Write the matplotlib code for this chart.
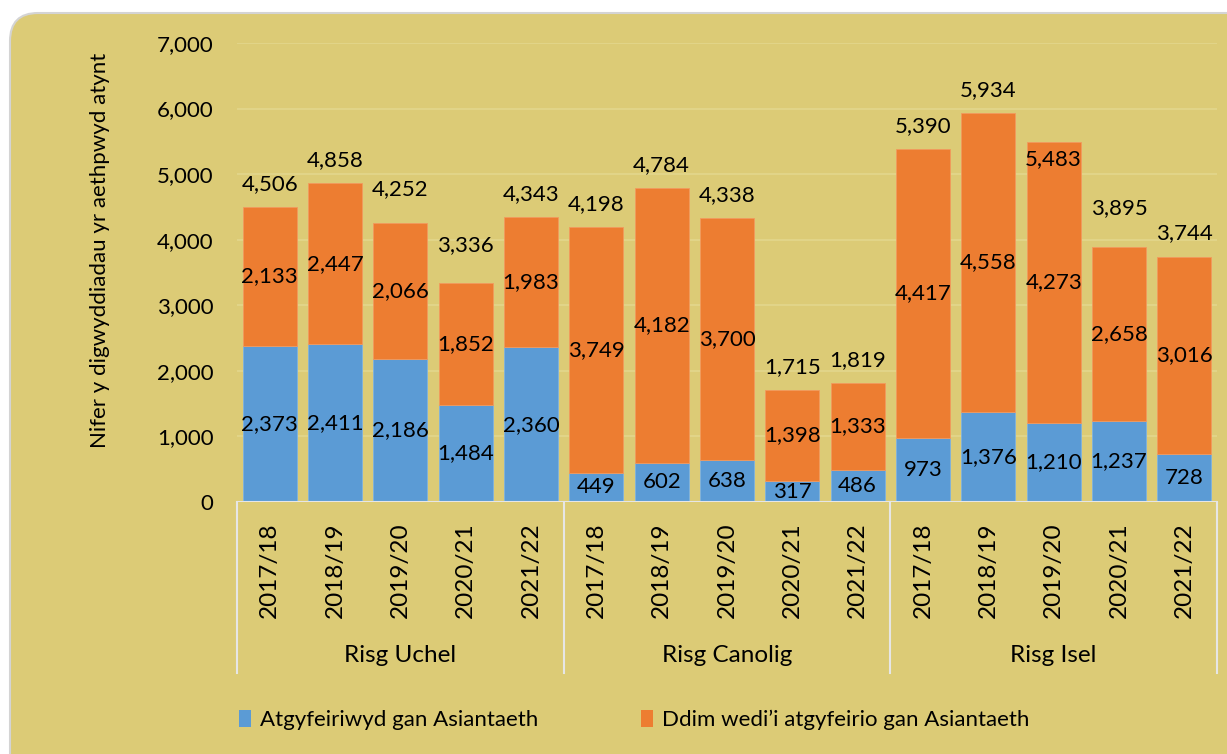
import numpy as np
import matplotlib.pyplot as plt
from matplotlib.patches import FancyBboxPatch, Patch
from matplotlib.lines import Line2D

plt.rcParams['font.family'] = ['Lato', 'DejaVu Sans']

# data
years = ['2017/18', '2018/19', '2019/20', '2020/21', '2021/22']
groups = ['Risg Uchel', 'Risg Canolig', 'Risg Isel']
referred = [2373, 2411, 2186, 1484, 2360,
            449, 602, 638, 317, 486,
            973, 1376, 1210, 1237, 728]
not_referred = [2133, 2447, 2066, 1852, 1983,
                3749, 4182, 3700, 1398, 1333,
                4417, 4558, 4273, 2658, 3016]
totals = [4506, 4858, 4252, 3336, 4343,
          4198, 4784, 4338, 1715, 1819,
          5390, 5934, 5483, 3895, 3744]
series_names = ['Atgyfeiriwyd gan Asiantaeth', "Ddim wedi\u2019i atgyfeirio gan Asiantaeth"]
ylabel = 'Nifer y digwyddiadau yr aethpwyd atynt'

blue = '#5B9BD5'
orange = '#ED7D31'
bg = '#DCCB76'
grid_c = '#E3D68C'
sep_c = '#E6E6E6'

W, H = 1227, 754
fig = plt.figure(figsize=(W / 100, H / 100), dpi=100)
fig.patch.set_facecolor('white')

# rounded khaki panel
panel = FancyBboxPatch((0.10, -0.3), 12.6, 7.71,
                       boxstyle='round,pad=0,rounding_size=0.28',
                       transform=fig.dpi_scale_trans, facecolor=bg,
                       edgecolor='#D4D4D4', linewidth=1.5, zorder=-10)
fig.patches.append(panel)

ax = fig.add_axes([237 / W, (H - 502) / H, 980 / W, 459 / H])
ax.set_facecolor('none')
ax.set_zorder(2)

n = len(totals)
x = np.arange(n)
ax.bar(x, referred, width=0.83, color=blue, edgecolor='#7FB2E0', linewidth=0.6, zorder=3)
ax.bar(x, not_referred, bottom=referred, width=0.83, color=orange,
       edgecolor='#F29A5E', linewidth=0.6, zorder=3)

ax.set_xlim(-0.5, n - 0.5)
ax.set_ylim(0, 7000)
ax.set_yticks(range(0, 7001, 1000))
ax.set_yticklabels([f'{v:,}' for v in range(0, 7001, 1000)], fontsize=16)
ax.tick_params(axis='y', length=0, pad=17)
ax.set_xticks([])
for v in range(1000, 7001, 1000):
    ax.axhline(v, color=grid_c, linewidth=1.2, zorder=1)
for s in ax.spines.values():
    s.set_visible(False)
ax.axhline(0, color=sep_c, linewidth=1.5, zorder=4)

# segment labels
for i in range(n):
    ax.text(x[i], referred[i] / 2, f'{referred[i]:,}', ha='center', va='center',
            fontsize=16, zorder=5)
    ax.text(x[i], referred[i] + not_referred[i] / 2, f'{not_referred[i]:,}',
            ha='center', va='center', fontsize=16, zorder=5)

# total labels (a few nudged as in the original)
nudge = {2: 11, 3: 15, 12: -40, 13: 16}
for i in range(n):
    ax.annotate(f'{totals[i]:,}', (x[i], totals[i]), xytext=(0, 16.5 + nudge.get(i, 0) * 0.72),
                textcoords='offset points', ha='center', va='center', fontsize=16, zorder=5)

# two-level category axis
tr = ax.get_xaxis_transform()
for i in range(n):
    ax.text(x[i], -0.148, years[i % 5], rotation=90, ha='center', va='center',
            fontsize=17.5, transform=tr, clip_on=False)
for g, name in enumerate(groups):
    ax.text(g * 5 + 2, -0.335, name, ha='center', va='center', fontsize=17.5,
            transform=tr, clip_on=False)
for b in [-0.5, 4.5, 9.5, 14.5]:
    ax.add_line(Line2D([b, b], [0, -0.372], transform=tr, color=sep_c,
                       linewidth=1.5, clip_on=False))

fig.text(100 / W, 1 - 250 / H, ylabel, rotation=90, ha='center', va='center', fontsize=16)

handles = [Patch(facecolor=blue), Patch(facecolor=orange)]
fig.legend(handles, series_names, loc='center', bbox_to_anchor=(634 / W, 1 - 720 / H),
           ncol=2, frameon=False, fontsize=16, handlelength=0.55, handleheight=0.8,
           handletextpad=0.4, columnspacing=4.6)

fig.savefig('out.png', dpi=100, facecolor='white')
